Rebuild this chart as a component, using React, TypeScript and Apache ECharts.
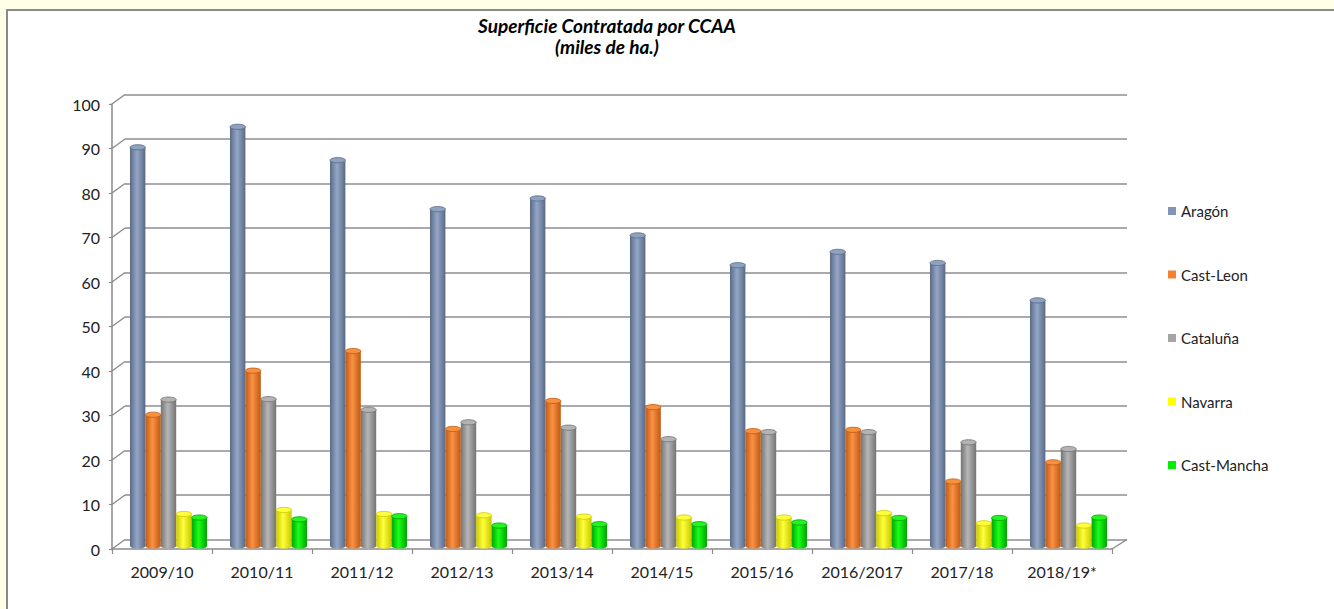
import React, { useEffect, useRef } from "react";
import * as echarts from "echarts";

const categories = ["2009/10", "2010/11", "2011/12", "2012/13", "2013/14", "2014/15", "2015/16", "2016/2017", "2017/18", "2018/19*"];
const seriesNames = ["Aragón", "Cast-Leon", "Cataluña", "Navarra", "Cast-Mancha"];
const aragon = [89.6, 94.2, 86.7, 75.7, 78.1, 69.8, 63.1, 66.1, 63.6, 55.2];
const castLeon = [29.5, 39.4, 43.8, 26.3, 32.6, 31.2, 25.8, 26.1, 14.5, 18.8];
const cataluna = [32.9, 33.0, 30.6, 27.8, 26.6, 24.0, 25.6, 25.6, 23.3, 21.8];
const navarra = [7.2, 8.1, 7.2, 6.9, 6.6, 6.4, 6.4, 7.4, 5.1, 4.6];
const castMancha = [6.4, 6.0, 6.7, 4.6, 4.9, 4.9, 5.3, 6.3, 6.3, 6.4];
const yTicks = [0, 10, 20, 30, 40, 50, 60, 70, 80, 90, 100];

const values = [aragon, castLeon, cataluna, navarra, castMancha];
const baseColors = ["#8096b4", "#f58233", "#a5a5a5", "#ffff00", "#00ee00"];
const darkColors = ["#5a6a86", "#c0580f", "#747474", "#c9c900", "#00a400"];
const lightColors = ["#93a8c6", "#f99247", "#b6b6b6", "#ffff3a", "#19ff19"];
const topColors = ["#8ea3c0", "#f7913f", "#b3b3b3", "#ffff40", "#22f522"];

const FONT = "Lato, 'Open Sans', sans-serif";

export default function App() {
  const ref = useRef<HTMLDivElement>(null);
  useEffect(() => {
    if (!ref.current) return;
    const chart = echarts.init(ref.current, undefined, { renderer: "svg" });

    const mkRender = (si: number) => (params: any, api: any) => {
      const j = api.value(0);
      const v = api.value(1);
      const p0 = api.coord([j, 0]);
      const p1 = api.coord([j, v]);
      const cw = api.size([1, 0])[0];
      const bw = cw * 0.154;
      const cx = p0[0] + (si - 2) * bw;
      const x = cx - bw / 2;
      const ry = 2.6;
      const grad = new echarts.graphic.LinearGradient(0, 0, 1, 0, [
        { offset: 0, color: darkColors[si] },
        { offset: 0.45, color: lightColors[si] },
        { offset: 1, color: darkColors[si] },
      ]);
      return {
        type: "group",
        children: [
          { type: "ellipse", shape: { cx, cy: p0[1], rx: bw / 2, ry }, style: { fill: grad } },
          { type: "rect", shape: { x, y: p1[1], width: bw, height: p0[1] - p1[1] }, style: { fill: grad } },
          { type: "ellipse", shape: { cx, cy: p1[1], rx: bw / 2, ry }, style: { fill: topColors[si], stroke: darkColors[si], lineWidth: 0.8 } },
        ],
      };
    };

    const option: any = {
      animation: false,
      backgroundColor: "#ffffe8",
      title: {
        text: "Superficie Contratada por CCAA\n(miles de ha.)",
        left: 607,
        top: 15,
        padding: 0,
        textAlign: "center",
        textStyle: { fontFamily: FONT, fontStyle: "italic", fontWeight: "bold", fontSize: 19, lineHeight: 21, color: "#000" },
      },
      legend: {
        orient: "vertical",
        left: 1168,
        top: 203,
        padding: 0,
        itemWidth: 8,
        itemHeight: 8,
        itemGap: 47.5,
        icon: "rect",
        data: seriesNames,
        textStyle: { fontFamily: FONT, fontSize: 15, lineHeight: 16, color: "#222" },
      },
      grid: [
        { left: 125, top: 94.5, width: 1002, height: 445 },
        { left: 118.5, top: 101, width: 1000, height: 445 },
        { left: 112, top: 104, width: 1000, height: 445 },
      ],
      xAxis: [
        { type: "category", gridIndex: 0, data: categories, show: false },
        { type: "category", gridIndex: 1, data: categories, show: false },
        {
          type: "category",
          gridIndex: 2,
          data: categories,
          axisLine: { show: true, lineStyle: { color: "#8a8a8a", width: 1.5 } },
          axisTick: { show: true, length: 5, interval: 0, lineStyle: { color: "#8a8a8a", width: 1.2 } },
          axisLabel: { fontFamily: FONT, fontSize: 16, color: "#222", margin: 14, interval: 0 },
        },
      ],
      yAxis: [
        {
          type: "value", gridIndex: 0, min: 0, max: 100, interval: 10,
          axisLabel: { show: false }, axisLine: { show: false }, axisTick: { show: false },
          splitLine: { show: true, lineStyle: { color: "#8e8e8e", width: 1.6 } },
        },
        {
          type: "value", gridIndex: 1, min: 0, max: 100, interval: 10, show: false,
          splitLine: { show: false },
        },
        {
          type: "value", gridIndex: 2, min: 0, max: 100, interval: 10,
          axisLine: { show: true, lineStyle: { color: "#8a8a8a", width: 1.5 } },
          axisTick: { show: true, length: 3, lineStyle: { color: "#8a8a8a", width: 1.2 } },
          axisLabel: { fontFamily: FONT, fontSize: 16, color: "#222", margin: 12 },
          splitLine: { show: false },
        },
      ],
      series: seriesNames.map((name, si) => ({
        type: "custom",
        name,
        xAxisIndex: 1,
        yAxisIndex: 1,
        itemStyle: { color: baseColors[si] },
        renderItem: mkRender(si),
        encode: { x: 0, y: 1 },
        data: values[si].map((v, j) => [j, v]),
        z: 5,
      })),
    };
    chart.setOption(option);

    const lines: any[] = [];
    const fx = chart.convertToPixel({ xAxisIndex: 2 }, 0) as number;
    const cwFront = 1000 / categories.length;
    const frontLeft = fx - cwFront / 2;
    const frontRight = frontLeft + 1000;
    const backLeft = 125;
    const backRight = 1127;
    yTicks.forEach((t) => {
      const yf = chart.convertToPixel({ yAxisIndex: 2 }, t) as number;
      const yb = chart.convertToPixel({ yAxisIndex: 0 }, t) as number;
      lines.push({
        type: "line",
        shape: { x1: frontLeft, y1: yf, x2: backLeft, y2: yb },
        style: { stroke: "#8a8a8a", lineWidth: 1.4 },
        z: 1,
      });
    });
    const yf0 = chart.convertToPixel({ yAxisIndex: 2 }, 0) as number;
    const yb0 = chart.convertToPixel({ yAxisIndex: 0 }, 0) as number;
    lines.push({
      type: "line",
      shape: { x1: frontRight, y1: yf0, x2: backRight, y2: yb0 },
      style: { stroke: "#8a8a8a", lineWidth: 1.4 },
      z: 1,
    });

    chart.setOption({
      graphic: [
        {
          type: "rect",
          shape: { x: 7, y: 10, width: 1400, height: 700 },
          style: { fill: "#ffffff", stroke: "#8a8a8a", lineWidth: 2 },
          z: -10,
          silent: true,
        },
        ...lines,
      ],
    });

    return () => chart.dispose();
  }, []);
  return (
    <div style={{ position: "fixed", left: 0, top: 0, width: 1334, height: 609 }}>
      <div ref={ref} style={{ width: 1334, height: 609 }} />
    </div>
  );
}
